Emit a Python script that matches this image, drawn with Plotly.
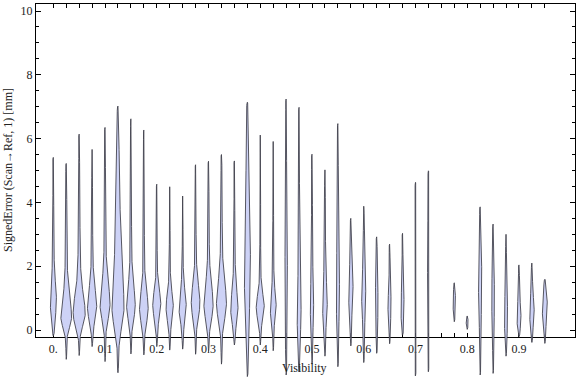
import numpy as np
import plotly.graph_objects as go

# ---------------- data ----------------
visibility = [0.0, 0.025, 0.05, 0.075, 0.1, 0.125, 0.15, 0.175, 0.2, 0.225,
              0.25, 0.275, 0.3, 0.325, 0.35, 0.375, 0.4, 0.425, 0.45, 0.475,
              0.5, 0.525, 0.55, 0.575, 0.6, 0.625, 0.65, 0.675, 0.7, 0.725,
              0.775, 0.8, 0.825, 0.85, 0.875, 0.9, 0.925, 0.95]
err_max = [5.41, 5.22, 6.14, 5.66, 6.35, 7.02, 6.62, 6.27, 4.57, 4.49,
           4.20, 5.18, 5.29, 5.50, 5.30, 7.14, 6.11, 5.91, 7.24, 6.98,
           5.51, 5.02, 6.47, 3.50, 3.88, 2.92, 2.69, 3.03, 4.63, 4.99,
           1.48, 0.44, 3.86, 3.32, 3.00, 2.04, 2.10, 1.59]
err_min = [-0.18, -0.92, -0.80, -0.52, -0.99, -1.34, -0.75, -0.78, -0.52, -0.63,
           -0.60, -0.76, -0.68, -1.07, -0.47, -1.46, -0.47, -0.65, -1.41, -1.31,
           -1.07, -0.82, -1.15, -0.50, -1.02, -0.73, -0.43, -0.16, -1.44, -1.31,
           0.26, 0.02, -1.41, -1.36, -0.82, -0.21, -0.39, -0.42]
err_mode = [0.95, 0.40, 0.50, 0.70, 0.80, 0.70, 0.78, 0.68, 0.78, 0.69,
            0.69, 0.84, 0.78, 0.84, 0.63, 2.00, 0.69, 0.69, 1.00, 0.42,
            0.60, 0.70, 1.00, 1.16, 1.00, 0.80, 0.73, 0.63, 1.00, 1.50,
            0.85, 0.23, 1.50, 1.00, 0.30, 0.37, 0.52, 0.68]
# relative peak density (1 = widest violin)
peak_density = [0.49, 0.88, 1.00, 0.75, 0.82, 1.00, 0.70, 0.70, 0.65, 0.58,
                0.58, 0.70, 0.75, 0.82, 0.58, 0.49, 0.65, 0.47, 0.18, 0.30,
                0.23, 0.35, 0.23, 0.35, 0.30, 0.18, 0.23, 0.23, 0.09, 0.09,
                0.18, 0.12, 0.23, 0.18, 0.23, 0.30, 0.35, 0.40]
spread_low = [0.55, 0.31, 0.35, 0.40, 0.45, 0.60, 0.45, 0.45, 0.40, 0.40,
              0.40, 0.45, 0.45, 0.50, 0.40, 1.50, 0.35, 0.35, 1.00, 0.50,
              0.50, 0.45, 0.70, 0.50, 0.60, 0.60, 0.35, 0.40, 1.00, 1.00,
              0.25, 0.10, 1.00, 0.80, 0.40, 0.30, 0.35, 0.40]
spread_high = [0.50, 0.55, 0.60, 0.55, 0.60, 0.90, 0.55, 0.50, 0.45, 0.45,
               0.50, 0.55, 0.60, 0.60, 0.55, 1.80, 0.40, 0.45, 1.50, 0.80,
               0.80, 0.70, 1.20, 0.60, 0.70, 0.70, 0.40, 0.50, 1.50, 1.50,
               0.30, 0.10, 1.00, 0.80, 0.70, 0.40, 0.45, 0.45]
# relative density of the slowly decaying upper tail
tail_density = [0.11, 0.18, 0.21, 0.14, 0.18, 0.53, 0.14, 0.11, 0.05, 0.05,
                0.05, 0.11, 0.14, 0.18, 0.11, 0.14, 0.07, 0.07, 0.07, 0.09,
                0.07, 0.09, 0.07, 0.05, 0.05, 0.04, 0.04, 0.04, 0.0, 0.0,
                0.0, 0.0, 0.0, 0.0, 0.04, 0.04, 0.05, 0.0]
tail_spread = [1.5, 2.0, 2.0, 1.5, 1.8, 3.0, 1.8, 1.5, 1.0, 1.0,
               1.0, 1.3, 1.6, 1.8, 1.5, 3.0, 1.0, 1.2, 2.5, 2.0,
               2.0, 1.5, 2.0, 1.0, 1.0, 1.0, 1.0, 1.0, 1.0, 1.0,
               1.0, 1.0, 1.0, 1.0, 1.0, 1.0, 1.0, 1.0]

x_major = [0.0, 0.1, 0.2, 0.3, 0.4, 0.5, 0.6, 0.7, 0.8, 0.9]
x_major_text = ["0.", "0.1", "0.2", "0.3", "0.4", "0.5", "0.6", "0.7", "0.8", "0.9"]
x_minor = [round(0.025 * i, 3) for i in range(39)]
y_major = [0, 2, 4, 6, 8, 10]

# ---------------- geometry / style ----------------
W, H = 576, 377
X0_PX, X_SCALE = 53.3, 517.4      # px of x=0, px per unit
Y0_PX, Y_SCALE = 330.0, 31.9      # px of y=0, px per unit
FRAME_L, FRAME_R, FRAME_T, FRAME_B = 36, 575, 4, 337.2
MAX_HALF_PX = 5.7
LINE_HALF_PX = 0.35
FONT = "Liberation Serif, Times New Roman, serif"
FILL = "rgb(205,210,246)"
EDGE = "rgba(60,60,70,0.85)"

def px_to_x(px):
    return (px - X0_PX) / X_SCALE

def px_to_y(px):
    return (Y0_PX - px) / Y_SCALE

fig = go.Figure()

for i, pos in enumerate(visibility):
    lo, hi, m = err_min[i], err_max[i], err_mode[i]
    y = np.linspace(lo, hi, 400)
    pk = peak_density[i] * MAX_HALF_PX
    nk = tail_density[i] * MAX_HALF_PX
    core_amp = max(pk - nk, 0.0)
    s = np.where(y < m, spread_low[i], spread_high[i])
    core = core_amp * np.exp(-0.5 * ((y - m) / s) ** 2)
    neck = np.where(y > m,
                    nk * np.exp(-0.5 * ((y - m) / tail_spread[i]) ** 2),
                    nk * np.exp(-0.5 * ((y - m) / spread_low[i]) ** 2))
    taper = np.sqrt(np.clip((y - lo) / 0.06, 0, 1) * np.clip((hi - y) / 0.06, 0, 1))
    hw_px = (LINE_HALF_PX + core + neck) * taper
    hw = hw_px / X_SCALE
    xs = np.concatenate([pos + hw, (pos - hw)[::-1]])
    ys = np.concatenate([y, y[::-1]])
    fig.add_trace(go.Scatter(
        x=xs, y=ys, mode="lines", fill="toself", fillcolor=FILL,
        line=dict(color=EDGE, width=1), xaxis="x2", yaxis="y2",
        hoverinfo="skip", showlegend=False))

# dummy trace to instantiate frame axes
fig.add_trace(go.Scatter(x=[None], y=[None], xaxis="x", yaxis="y",
                         showlegend=False, hoverinfo="skip"))

tickfont = dict(family=FONT, size=12, color="#222222")

fig.update_layout(
    width=W, height=H,
    margin=dict(l=0, r=0, t=0, b=0),
    paper_bgcolor="white", plot_bgcolor="rgba(0,0,0,0)",
    showlegend=False,
    xaxis=dict(
        domain=[FRAME_L / W, FRAME_R / W],
        range=[px_to_x(FRAME_L), px_to_x(FRAME_R)],
        showline=True, linecolor="black", linewidth=1, mirror="ticks",
        showgrid=False, zeroline=False,
        tickmode="array", tickvals=x_major, ticktext=x_major_text,
        ticks="inside", ticklen=4, tickcolor="black", tickwidth=1,
        tickfont=tickfont,
        minor=dict(tickmode="array", tickvals=x_minor, ticks="inside",
                   ticklen=4, tickcolor="black", tickwidth=1, showgrid=False),
        anchor="y",
    ),
    yaxis=dict(
        domain=[(H - FRAME_B) / H, (H - FRAME_T) / H],
        range=[px_to_y(FRAME_B), px_to_y(FRAME_T)],
        showline=True, linecolor="black", linewidth=1, mirror="ticks",
        showgrid=False, zeroline=False,
        tickmode="array", tickvals=y_major,
        ticks="inside", ticklen=5, tickcolor="black", tickwidth=1,
        tickfont=tickfont,
        minor=dict(dtick=0.5, tick0=0, ticks="inside", ticklen=3,
                   tickcolor="black", tickwidth=1, showgrid=False),
        anchor="x",
    ),
    xaxis2=dict(domain=[0, 1], range=[px_to_x(0), px_to_x(W)], visible=False,
                anchor="y2", fixedrange=True),
    yaxis2=dict(domain=[0, 1], range=[px_to_y(H), px_to_y(0)], visible=False,
                anchor="x2", fixedrange=True),
    annotations=[
        dict(text="Visibility", xref="paper", yref="paper",
             x=304 / W, y=(H - 368) / H, showarrow=False,
             font=dict(family=FONT, size=12, color="#222222"),
             xanchor="center", yanchor="middle"),
        dict(text="SignedError (Scan\u2192Ref, 1) [mm]", xref="paper", yref="paper",
             x=8 / W, y=(H - 170) / H, showarrow=False, textangle=-90,
             font=dict(family=FONT, size=12, color="#222222"),
             xanchor="center", yanchor="middle"),
    ],
)

fig.write_html(
    "out.html",
    config={"displayModeBar": False, "staticPlot": True},
    post_script="document.body.style.margin='0';document.body.style.overflow='hidden';",
)
